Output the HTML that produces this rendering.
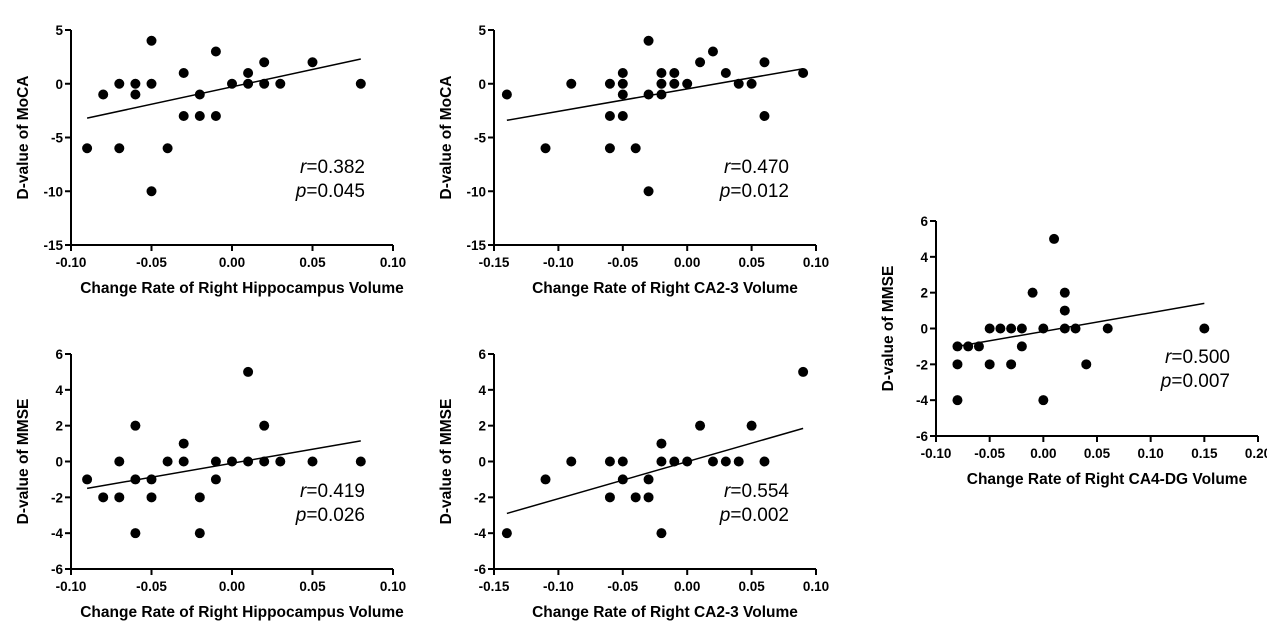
<!DOCTYPE html>
<html><head><meta charset="utf-8"><style>
body{margin:0;background:#fff;}
svg{display:block;font-family:"Liberation Sans",Arial,sans-serif;}
</style></head><body>
<svg id="c" width="1267" height="635" viewBox="0 0 1267 635"></svg>
<script>
const p1X=[-0.09,-0.08,-0.07,-0.07,-0.06,-0.06,-0.05,-0.05,-0.05,-0.04,-0.03,-0.03,-0.02,-0.02,-0.01,-0.01,0,0.01,0.01,0.02,0.02,0.03,0.05,0.08];
const p1Y=[-6,-1,0,-6,0,-1,4,0,-10,-6,1,-3,-1,-3,3,-3,0,1,0,2,0,0,2,0];
const p2X=[-0.14,-0.11,-0.09,-0.06,-0.06,-0.06,-0.05,-0.05,-0.05,-0.05,-0.04,-0.03,-0.03,-0.03,-0.02,-0.02,-0.02,-0.01,-0.01,0,0.01,0.02,0.03,0.04,0.05,0.06,0.06,0.09];
const p2Y=[-1,-6,0,0,-3,-6,1,0,-1,-3,-6,4,-1,-10,1,0,-1,1,0,0,2,3,1,0,0,2,-3,1];
const p3X=[-0.09,-0.08,-0.07,-0.07,-0.06,-0.06,-0.06,-0.05,-0.05,-0.04,-0.03,-0.03,-0.02,-0.02,-0.01,-0.01,0,0.01,0.01,0.02,0.02,0.03,0.05,0.08];
const p3Y=[-1,-2,0,-2,2,-1,-4,-1,-2,0,1,0,-2,-4,0,-1,0,5,0,2,0,0,0,0];
const p4X=[-0.14,-0.11,-0.09,-0.06,-0.06,-0.05,-0.05,-0.04,-0.03,-0.03,-0.02,-0.02,-0.02,-0.01,0,0.01,0.02,0.03,0.04,0.05,0.06,0.09];
const p4Y=[-4,-1,0,0,-2,0,-1,-2,-1,-2,1,0,-4,0,0,2,0,0,0,2,0,5];
const p5X=[-0.08,-0.08,-0.08,-0.07,-0.06,-0.05,-0.05,-0.04,-0.03,-0.03,-0.02,-0.02,-0.01,0,0,0.01,0.02,0.02,0.02,0.03,0.04,0.06,0.15];
const p5Y=[-1,-2,-4,-1,-1,0,-2,0,0,-2,0,-1,2,0,-4,5,2,1,0,0,-2,0,0];
const fitLines=[[-0.09,-3.2,0.08,2.3],[-0.14,-3.4,0.09,1.4],[-0.09,-1.5,0.08,1.15],[-0.14,-2.9,0.09,1.85],[-0.08,-1.0,0.15,1.4]];
const xTicksA=[-0.10,-0.05,0.00,0.05,0.10];
const xTicksB=[-0.15,-0.10,-0.05,0.00,0.05,0.10];
const xTicksC=[-0.10,-0.05,0.00,0.05,0.10,0.15,0.20];
const yTicksMoCA=[5,0,-5,-10,-15];
const yTicksMMSE=[6,4,2,0,-2,-4,-6];
const rVals=["0.382","0.470","0.419","0.554","0.500"];
const pVals=["0.045","0.012","0.026","0.002","0.007"];
const NS="http://www.w3.org/2000/svg";
const svg=document.getElementById('c');
function mk(tag,attrs,parent){const e=document.createElementNS(NS,tag);for(const k in attrs)e.setAttribute(k,attrs[k]);(parent||svg).appendChild(e);return e;}
const panels=[
 {x0:71,x1:393,xt:xTicksA,y0:30,y1:245,yt:yTicksMoCA,X:p1X,Y:p1Y,xl:"Change Rate of Right Hippocampus Volume",yl:"D-value of MoCA",ry:173,rx:365},
 {x0:494,x1:816,xt:xTicksB,y0:30,y1:245,yt:yTicksMoCA,X:p2X,Y:p2Y,xl:"Change Rate of Right CA2-3 Volume",yl:"D-value of MoCA",ry:173,rx:789},
 {x0:71,x1:393,xt:xTicksA,y0:354,y1:569,yt:yTicksMMSE,X:p3X,Y:p3Y,xl:"Change Rate of Right Hippocampus Volume",yl:"D-value of MMSE",ry:497,rx:365},
 {x0:494,x1:816,xt:xTicksB,y0:354,y1:569,yt:yTicksMMSE,X:p4X,Y:p4Y,xl:"Change Rate of Right CA2-3 Volume",yl:"D-value of MMSE",ry:497,rx:789},
 {x0:936,x1:1258,xt:xTicksC,y0:221,y1:436,yt:yTicksMMSE,X:p5X,Y:p5Y,xl:"Change Rate of Right CA4-DG Volume",yl:"D-value of MMSE",ry:363,rx:1230}
];
panels.forEach((P,i)=>{
 const g=mk('g',{});
 
 
 const xmin=P.xt[0],xmax=P.xt[P.xt.length-1],ymax=P.yt[0],ymin=P.yt[P.yt.length-1];
 const sx=v=>P.x0+(v-xmin)/(xmax-xmin)*(P.x1-P.x0);
 const sy=v=>P.y1-(v-ymin)/(ymax-ymin)*(P.y1-P.y0);
 const ax=mk('path',{d:`M${P.x0},${P.y0}V${P.y1}H${P.x1}`,stroke:'#000','stroke-width':2,fill:'none'},g);
 
 
 P.xt.forEach(t=>{
  mk('line',{x1:sx(t),x2:sx(t),y1:P.y1,y2:P.y1+6,stroke:'#000','stroke-width':2},g);
  const tx=mk('text',{x:sx(t),y:P.y1+22,'text-anchor':'middle','font-size':13.5,'font-weight':'bold'},g);
  tx.textContent=t.toFixed(2);
  
  
 });
 P.yt.forEach(t=>{
  mk('line',{x1:P.x0-6,x2:P.x0,y1:sy(t),y2:sy(t),stroke:'#000','stroke-width':2},g);
  const tx=mk('text',{x:P.x0-8,y:sy(t)+5,'text-anchor':'end','font-size':13.5,'font-weight':'bold'},g);
  tx.textContent=String(t);
  
  
 });
 const xl=mk('text',{x:(P.x0+P.x1)/2+10,y:P.y1+48,'text-anchor':'middle','font-size':15.5,'font-weight':'bold'},g);
 xl.textContent=P.xl;
 
 
 const yc=(P.y0+P.y1)/2;
 const yl=mk('text',{x:P.x0-43,y:yc,'text-anchor':'middle','font-size':15.5,'font-weight':'bold',transform:`rotate(-90 ${P.x0-43} ${yc})`},g);
 yl.textContent=P.yl;
 
 
 P.X.forEach((v,j)=>{
  const c=mk('circle',{cx:sx(v),cy:sy(P.Y[j]),r:5,fill:'#000'},g);
  
  
 });
 const L=fitLines[i];
 const ln=mk('line',{x1:sx(L[0]),y1:sy(L[1]),x2:sx(L[2]),y2:sy(L[3]),stroke:'#000','stroke-width':1.5},g);
 
 
 const r=mk('text',{x:P.rx,y:P.ry,'text-anchor':'end','font-size':19},g);
 r.innerHTML='<tspan font-style="italic">r</tspan>='+rVals[i];
 
 
 const p=mk('text',{x:P.rx,y:P.ry+24,'text-anchor':'end','font-size':19},g);
 p.innerHTML='<tspan font-style="italic">p</tspan>='+pVals[i];
 
 
});
</script>
</body></html>
